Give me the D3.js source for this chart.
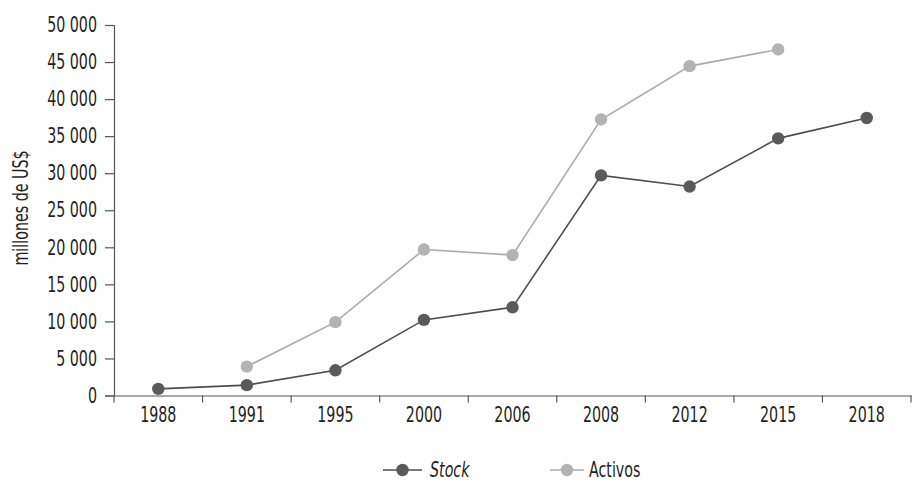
<!DOCTYPE html>
<html><head><meta charset="utf-8">
<script src="https://cdn.jsdelivr.net/npm/d3@7"></script>
<style>
body{margin:0;background:#fff;}
text{font-family:"DejaVu Sans Condensed","DejaVu Sans",sans-serif;font-stretch:condensed;fill:#1f1f24;}
</style></head>
<body><svg id="c" width="919" height="489"></svg>
<script>
const years = ["1988","1991","1995","2000","2006","2008","2012","2015","2018"];
const stock = [900, 1400, 3400, 10200, 11900, 29700, 28200, 34700, 37450];
const activos = [null, 3900, 9900, 19700, 18950, 37250, 44450, 46700, null];
const yTicks = [0,5000,10000,15000,20000,25000,30000,35000,40000,45000,50000];
const seriesNames = ["Stock","Activos"];

const SX = 0.755; // horizontal squeeze to mimic the narrow typeface
const FS = "21px";
const svg = d3.select("#c");
const L=114, R=911, T=25, B=395.5;
const x = d3.scaleBand().domain(years).range([L,R]);
const y = d3.scaleLinear().domain([0,50000]).range([B,T]);
const fmt = v => v===0 ? "0" : d3.format(",")(v).replace(/,/g," ");

// y axis
const ya = svg.append("g").attr("transform",`translate(${L},0)`)
  .call(d3.axisLeft(y).tickValues(yTicks).tickFormat(fmt).tickSize(9).tickPadding(8));
ya.select(".domain").attr("stroke","#555").attr("stroke-width",1.2);
ya.selectAll(".tick line").attr("stroke","#555").attr("stroke-width",1.2);
ya.selectAll("text").style("font-size",FS).attr("fill","#1f1f24")
  .attr("x",-17/SX).attr("transform",`scale(${SX},1)`);

// x axis
const xa = svg.append("g").attr("transform",`translate(0,${B})`)
  .call(d3.axisBottom(x).tickSize(0).tickPadding(10));
xa.select(".domain").attr("stroke","#555").attr("stroke-width",1.2);
xa.selectAll("text").style("font-size",FS).attr("fill","#1f1f24").attr("dy","0.8em")
  .attr("transform",`scale(${SX},1)`);
// tick marks between categories
const bounds = years.map(d=>x(d)).concat([R]);
svg.append("g").selectAll("line").data(bounds).join("line")
  .attr("x1",d=>d).attr("x2",d=>d).attr("y1",B).attr("y2",B+7)
  .attr("stroke","#555").attr("stroke-width",1.2);

// y title
svg.append("text").attr("transform",`translate(28,208) rotate(-90) scale(${SX},1)`)
  .attr("text-anchor","middle").style("font-size",FS).text("millones de US$");

const cx = d => x(d)+x.bandwidth()/2;
const series = [
  {name:seriesNames[0], vals:stock, line:"#4d4d4d", dot:"#5a5a5a", italic:true},
  {name:seriesNames[1], vals:activos, line:"#ababab", dot:"#b3b3b3", italic:false}
];
const line = d3.line().defined(d=>d.v!=null).x(d=>cx(d.k)).y(d=>y(d.v));
series.slice().reverse().forEach(s=>{
  const pts = years.map((k,i)=>({k, v:s.vals[i]}));
  svg.append("path").datum(pts).attr("d",line).attr("fill","none")
    .attr("stroke",s.line).attr("stroke-width",1.6);
  svg.append("g").selectAll("circle").data(pts.filter(d=>d.v!=null)).join("circle")
    .attr("cx",d=>cx(d.k)).attr("cy",d=>y(d.v)).attr("r",6.2).attr("fill",s.dot);
});

// legend
const lg = [{x0:383,x1:422,tx:430},{x0:550,x1:584,tx:589}];
series.forEach((s,i)=>{
  const g = svg.append("g");
  g.append("line").attr("x1",lg[i].x0).attr("x2",lg[i].x1).attr("y1",470).attr("y2",470)
    .attr("stroke",s.line).attr("stroke-width",1.6);
  g.append("circle").attr("cx",(lg[i].x0+lg[i].x1)/2).attr("cy",470).attr("r",6.2).attr("fill",s.dot);
  g.append("text").attr("transform",`translate(${lg[i].tx},477) scale(${SX},1)`).style("font-size",FS)
    .style("font-style",s.italic?"italic":"normal").text(s.name);
});
</script></body></html>
